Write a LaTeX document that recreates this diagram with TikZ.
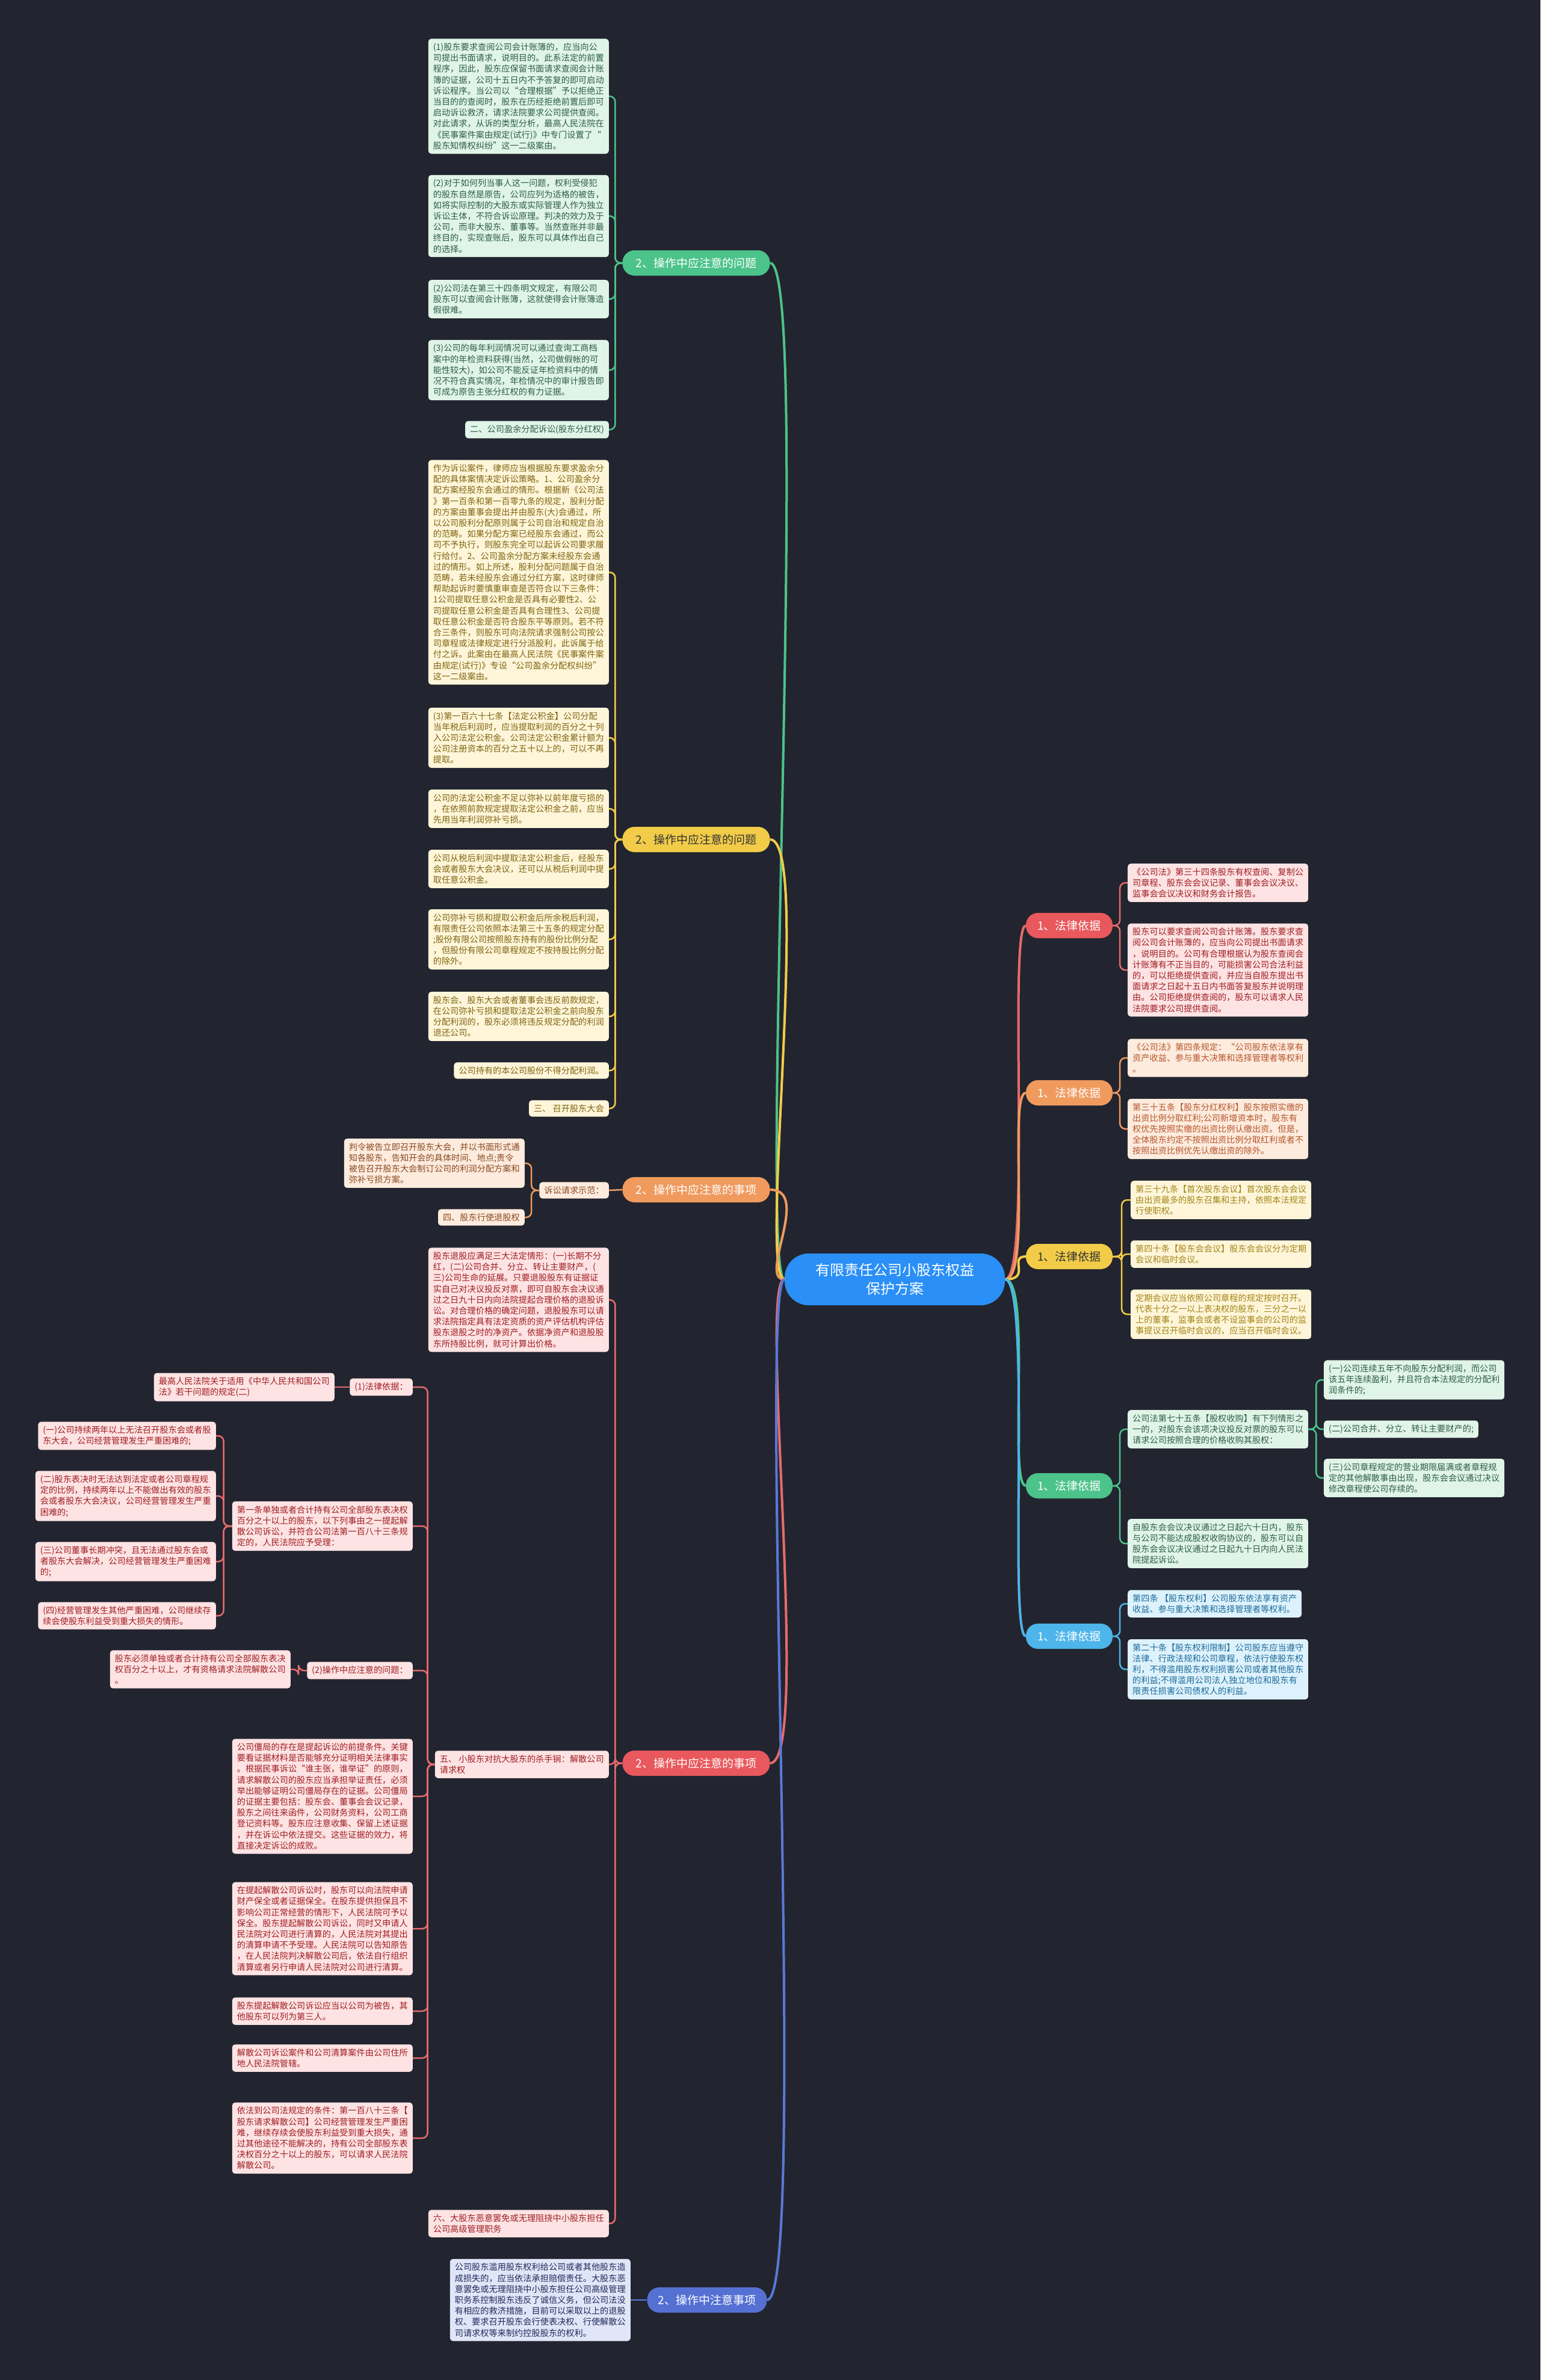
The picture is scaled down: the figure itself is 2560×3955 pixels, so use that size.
\documentclass[tikz,border=0pt]{standalone}
\usepackage{fontspec}
\setmainfont{Noto Sans CJK SC}
\usetikzlibrary{calc}
\definecolor{bg}{HTML}{22252F}
\definecolor{cF}{HTML}{2A8FF7}
\definecolor{gL}{HTML}{4CC38A}\definecolor{gF}{HTML}{E0F4E8}\definecolor{gT}{HTML}{2E5E46}
\definecolor{yL}{HTML}{F2CC48}\definecolor{yF}{HTML}{FFF6DA}\definecolor{yT}{HTML}{7F6410}\definecolor{yT2}{HTML}{A38416}
\definecolor{oL}{HTML}{F09A5E}\definecolor{oF}{HTML}{FDEBDE}\definecolor{oT}{HTML}{8A4A20}\definecolor{oT2}{HTML}{B5562A}
\definecolor{rL}{HTML}{E66B6D}\definecolor{rP}{HTML}{E8585C}\definecolor{rF}{HTML}{FDE3E3}\definecolor{rT}{HTML}{A01E24}
\definecolor{bL}{HTML}{4DB5EA}\definecolor{bF}{HTML}{DDF2FC}\definecolor{bT}{HTML}{1D6A9A}
\definecolor{eL}{HTML}{5A78D8}\definecolor{eP}{HTML}{5470D3}\definecolor{eF}{HTML}{E0E5F7}\definecolor{eT}{HTML}{202A5A}
\begin{document}
\begin{tikzpicture}[x=1pt,y=-1pt,
  box/.style={rounded corners=5pt, inner xsep=8pt, inner ysep=7pt, align=left, font=\fontsize{14.2}{18.2}\selectfont},
  gb/.style={box, fill=gF, text=gT},
  yb/.style={box, fill=yF, text=yT},
  yb2/.style={box, fill=yF, text=yT2},
  ob/.style={box, fill=oF, text=oT},
  ob2/.style={box, fill=oF, text=oT2},
  rb/.style={box, fill=rF, text=rT},
  bb/.style={box, fill=bF, text=bT},
  eb/.style={box, fill=eF, text=eT},
  pill/.style={rounded corners=20pt, minimum height=42pt, inner xsep=18pt, inner ysep=4pt, font=\fontsize{19}{22}\selectfont, text=white},
  ln/.style={line width=2.5pt, rounded corners=9pt},
  mainln/.style={line width=4pt},
]
\fill[bg] (0,0) rectangle (2560,3955);

% center
\node[fill=cF, text=white, rounded corners=40pt, minimum width=366pt, minimum height=86pt, align=center, font=\fontsize{24}{31}\selectfont] (C) at (1487,2126) {有限责任公司小股东权益\\保护方案};

% ---------- left level 1 ----------
\node[pill, fill=gL, minimum width=245pt] (A) at (1157,437) {2、操作中应注意的问题};
\node[pill, fill=yL, text=black!80, minimum width=245pt] (B) at (1157,1395) {2、操作中应注意的问题};
\node[pill, fill=oL, minimum width=245pt] (Cc) at (1157,1977) {2、操作中应注意的事项};
\node[pill, fill=rP, minimum width=245pt] (D) at (1157,2930) {2、操作中应注意的事项};
\node[pill, fill=eP, minimum width=199pt] (E) at (1175,3822) {2、操作中注意事项};

% ---------- right level 1 ----------
\node[pill, fill=rP, minimum width=144pt] (R) at (1777,1538) {1、法律依据};
\node[pill, fill=oL, minimum width=144pt] (O) at (1777,1816) {1、法律依据};
\node[pill, fill=yL, text=black!80, minimum width=144pt] (Y) at (1777,2088) {1、法律依据};
\node[pill, fill=gL, minimum width=144pt] (G) at (1777,2469) {1、法律依据};
\node[pill, fill=bL, minimum width=144pt] (BL) at (1777,2719) {1、法律依据};

% ---------- A (green) ----------
\node[gb, anchor=east] (A1) at (1012,160) {(1)股东要求查阅公司会计账簿的，应当向公\\司提出书面请求，说明目的。此系法定的前置\\程序，因此，股东应保留书面请求查阅会计账\\簿的证据，公司十五日内不予答复的即可启动\\诉讼程序。当公司以“合理根据”予以拒绝正\\当目的的查阅时，股东在历经拒绝前置后即可\\启动诉讼救济，请求法院要求公司提供查阅。\\对此请求，从诉的类型分析，最高人民法院在\\《民事案件案由规定(试行)》中专门设置了“\\股东知情权纠纷”这一二级案由。};
\node[gb, anchor=east] (A2) at (1012,359) {(2)对于如何列当事人这一问题，权利受侵犯\\的股东自然是原告，公司应列为适格的被告，\\如将实际控制的大股东或实际管理人作为独立\\诉讼主体，不符合诉讼原理。判决的效力及于\\公司，而非大股东、董事等。当然查账并非最\\终目的，实现查账后，股东可以具体作出自己\\的选择。};
\node[gb, anchor=east] (A3) at (1012,497) {(2)公司法在第三十四条明文规定，有限公司\\股东可以查阅会计账簿，这就使得会计账簿造\\假很难。};
\node[gb, anchor=east] (A4) at (1012,615) {(3)公司的每年利润情况可以通过查询工商档\\案中的年检资料获得(当然，公司做假帐的可\\能性较大)，如公司不能反证年检资料中的情\\况不符合真实情况，年检情况中的审计报告即\\可成为原告主张分红权的有力证据。};
\node[gb, anchor=east] (A5) at (1012,714) {二、公司盈余分配诉讼(股东分红权)};

% ---------- B (yellow) ----------
\node[yb, anchor=east] (B1) at (1012,951) {作为诉讼案件，律师应当根据股东要求盈余分\\配的具体案情决定诉讼策略。1、公司盈余分\\配方案经股东会通过的情形。根据新《公司法\\》第一百条和第一百零九条的规定，股利分配\\的方案由董事会提出并由股东(大)会通过，所\\以公司股利分配原则属于公司自治和规定自治\\的范畴。如果分配方案已经股东会通过，而公\\司不予执行，则股东完全可以起诉公司要求履\\行给付。2、公司盈余分配方案未经股东会通\\过的情形。如上所述，股利分配问题属于自治\\范畴，若未经股东会通过分红方案，这时律师\\帮助起诉时要慎重审查是否符合以下三条件：\\1公司提取任意公积金是否具有必要性2、公\\司提取任意公积金是否具有合理性3、公司提\\取任意公积金是否符合股东平等原则。若不符\\合三条件，则股东可向法院请求强制公司按公\\司章程或法律规定进行分派股利，此诉属于给\\付之诉。此案由在最高人民法院《民事案件案\\由规定(试行)》专设“公司盈余分配权纠纷”\\这一二级案由。};
\node[yb, anchor=east] (B2) at (1012,1226) {(3)第一百六十七条【法定公积金】公司分配\\当年税后利润时，应当提取利润的百分之十列\\入公司法定公积金。公司法定公积金累计额为\\公司注册资本的百分之五十以上的，可以不再\\提取。};
\node[yb, anchor=east] (B3) at (1012,1344) {公司的法定公积金不足以弥补以前年度亏损的\\，在依照前款规定提取法定公积金之前，应当\\先用当年利润弥补亏损。};
\node[yb, anchor=east] (B4) at (1012,1444) {公司从税后利润中提取法定公积金后，经股东\\会或者股东大会决议，还可以从税后利润中提\\取任意公积金。};
\node[yb, anchor=east] (B5) at (1012,1561) {公司弥补亏损和提取公积金后所余税后利润，\\有限责任公司依照本法第三十五条的规定分配\\;股份有限公司按照股东持有的股份比例分配\\，但股份有限公司章程规定不按持股比例分配\\的除外。};
\node[yb, anchor=east] (B6) at (1012,1689) {股东会、股东大会或者董事会违反前款规定，\\在公司弥补亏损和提取法定公积金之前向股东\\分配利润的，股东必须将违反规定分配的利润\\退还公司。};
\node[yb, anchor=east] (B7) at (1012,1779) {公司持有的本公司股份不得分配利润。};
\node[yb, anchor=east] (B8) at (1012,1842) {三、 召开股东大会};

% ---------- C (orange) ----------
\node[ob, anchor=east] (C0) at (1012,1978) {诉讼请求示范：};
\node[ob, anchor=east] (C1) at (872,1933) {判令被告立即召开股东大会，并以书面形式通\\知各股东，告知开会的具体时间、地点;责令\\被告召开股东大会制订公司的利润分配方案和\\弥补亏损方案。};
\node[ob, anchor=east] (C2) at (872,2023) {四、股东行使退股权};

% ---------- D (red) ----------
\node[rb, anchor=east] (D1) at (1012,2160) {股东退股应满足三大法定情形：(一)长期不分\\红，(二)公司合并、分立、转让主要财产，(\\三)公司生命的延展。只要退股股东有证据证\\实自己对决议投反对票，即可自股东会决议通\\过之日九十日内向法院提起合理价格的退股诉\\讼。对合理价格的确定问题，退股股东可以请\\求法院指定具有法定资质的资产评估机构评估\\股东退股之时的净资产。依据净资产和退股股\\东所持股比例，就可计算出价格。};
\node[rb, anchor=east] (D2) at (1012,2932) {五、 小股东对抗大股东的杀手锏：解散公司\\请求权};
\node[rb, anchor=east] (D3) at (1012,3695) {六、大股东恶意罢免或无理阻挠中小股东担任\\公司高级管理职务};

% children of D2
\node[rb, anchor=east] (F1) at (686,2305) {(1)法律依据：};
\node[rb, anchor=east] (F1a) at (556,2305) {最高人民法院关于适用《中华人民共和国公司\\法》若干问题的规定(二)};
\node[rb, anchor=east] (F2) at (686,2536) {第一条单独或者合计持有公司全部股东表决权\\百分之十以上的股东，以下列事由之一提起解\\散公司诉讼，并符合公司法第一百八十三条规\\定的，人民法院应予受理：};
\node[rb, anchor=east] (F2a) at (359,2386) {(一)公司持续两年以上无法召开股东会或者股\\东大会，公司经营管理发生严重困难的;};
\node[rb, anchor=east] (F2b) at (359,2486) {(二)股东表决时无法达到法定或者公司章程规\\定的比例，持续两年以上不能做出有效的股东\\会或者股东大会决议，公司经营管理发生严重\\困难的;};
\node[rb, anchor=east] (F2c) at (359,2595) {(三)公司董事长期冲突，且无法通过股东会或\\者股东大会解决，公司经营管理发生严重困难\\的;};
\node[rb, anchor=east] (F2d) at (359,2685) {(四)经营管理发生其他严重困难，公司继续存\\续会使股东利益受到重大损失的情形。};
\node[rb, anchor=east] (F3) at (686,2776) {(2)操作中应注意的问题：};
\node[rb, anchor=east] (F3a) at (483,2774) {股东必须单独或者合计持有公司全部股东表决\\权百分之十以上，才有资格请求法院解散公司\\。};
\node[rb, anchor=east] (F4) at (686,2985) {公司僵局的存在是提起诉讼的前提条件。关键\\要看证据材料是否能够充分证明相关法律事实\\。根据民事诉讼“谁主张，谁举证”的原则，\\请求解散公司的股东应当承担举证责任，必须\\举出能够证明公司僵局存在的证据。公司僵局\\的证据主要包括：股东会、董事会会议记录，\\股东之间往来函件，公司财务资料，公司工商\\登记资料等。股东应注意收集、保留上述证据\\，并在诉讼中依法提交。这些证据的效力，将\\直接决定诉讼的成败。};
\node[rb, anchor=east] (F5) at (686,3205) {在提起解散公司诉讼时，股东可以向法院申请\\财产保全或者证据保全。在股东提供担保且不\\影响公司正常经营的情形下，人民法院可予以\\保全。股东提起解散公司诉讼，同时又申请人\\民法院对公司进行清算的，人民法院对其提出\\的清算申请不予受理。人民法院可以告知原告\\，在人民法院判决解散公司后，依法自行组织\\清算或者另行申请人民法院对公司进行清算。};
\node[rb, anchor=east] (F6) at (686,3342) {股东提起解散公司诉讼应当以公司为被告，其\\他股东可以列为第三人。};
\node[rb, anchor=east] (F7) at (686,3420) {解散公司诉讼案件和公司清算案件由公司住所\\地人民法院管辖。};
\node[rb, anchor=east] (F8) at (686,3553) {依法到公司法规定的条件：第一百八十三条【\\股东请求解散公司】公司经营管理发生严重困\\难，继续存续会使股东利益受到重大损失，通\\过其他途径不能解决的，持有公司全部股东表\\决权百分之十以上的股东，可以请求人民法院\\解散公司。};

% ---------- E (blue) ----------
\node[eb, anchor=east] (E1) at (1048,3822) {公司股东滥用股东权利给公司或者其他股东造\\成损失的，应当依法承担赔偿责任。大股东恶\\意罢免或无理阻挠中小股东担任公司高级管理\\职务系控制股东违反了诚信义务，但公司法没\\有相应的救济措施，目前可以采取以上的退股\\权、要求召开股东会行使表决权、行使解散公\\司请求权等来制约控股股东的权利。};

% ---------- right children ----------
\node[rb, anchor=west] (R1) at (1874,1467) {《公司法》第三十四条股东有权查阅、复制公\\司章程、股东会会议记录、董事会会议决议、\\监事会会议决议和财务会计报告。};
\node[rb, anchor=west] (R2) at (1874,1612) {股东可以要求查阅公司会计账簿。股东要求查\\阅公司会计账簿的，应当向公司提出书面请求\\，说明目的。公司有合理根据认为股东查阅会\\计账簿有不正当目的，可能损害公司合法利益\\的，可以拒绝提供查阅，并应当自股东提出书\\面请求之日起十五日内书面答复股东并说明理\\由。公司拒绝提供查阅的，股东可以请求人民\\法院要求公司提供查阅。};
\node[ob2, anchor=west] (O1) at (1874,1758) {《公司法》第四条规定：“公司股东依法享有\\资产收益、参与重大决策和选择管理者等权利\\。};
\node[ob2, anchor=west] (O2) at (1874,1876) {第三十五条【股东分红权利】股东按照实缴的\\出资比例分取红利;公司新增资本时，股东有\\权优先按照实缴的出资比例认缴出资。但是，\\全体股东约定不按照出资比例分取红利或者不\\按照出资比例优先认缴出资的除外。};
\node[yb2, anchor=west] (Y1) at (1879,1994) {第三十九条【首次股东会议】首次股东会会议\\由出资最多的股东召集和主持，依照本法规定\\行使职权。};
\node[yb2, anchor=west] (Y2) at (1879,2084) {第四十条【股东会会议】股东会会议分为定期\\会议和临时会议。};
\node[yb2, anchor=west] (Y3) at (1879,2184) {定期会议应当依照公司章程的规定按时召开。\\代表十分之一以上表决权的股东，三分之一以\\上的董事，监事会或者不设监事会的公司的监\\事提议召开临时会议的，应当召开临时会议。};
\node[gb, anchor=west] (G1) at (1874,2375) {公司法第七十五条【股权收购】有下列情形之\\一的，对股东会该项决议投反对票的股东可以\\请求公司按照合理的价格收购其股权：};
\node[gb, anchor=west] (G2) at (1874,2565) {自股东会会议决议通过之日起六十日内，股东\\与公司不能达成股权收购协议的，股东可以自\\股东会会议决议通过之日起九十日内向人民法\\院提起诉讼。};
\node[gb, anchor=west] (G1a) at (2200,2293) {(一)公司连续五年不向股东分配利润，而公司\\该五年连续盈利，并且符合本法规定的分配利\\润条件的;};
\node[gb, anchor=west] (G1b) at (2200,2375) {(二)公司合并、分立、转让主要财产的;};
\node[gb, anchor=west] (G1c) at (2200,2456) {(三)公司章程规定的营业期限届满或者章程规\\定的其他解散事由出现，股东会会议通过决议\\修改章程使公司存续的。};
\node[bb, anchor=west] (BL1) at (1874,2665) {第四条 【股东权利】公司股东依法享有资产\\收益、参与重大决策和选择管理者等权利。};
\node[bb, anchor=west] (BL2) at (1874,2774) {第二十条【股东权利限制】公司股东应当遵守\\法律、行政法规和公司章程，依法行使股东权\\利，不得滥用股东权利损害公司或者其他股东\\的利益;不得滥用公司法人独立地位和股东有\\限责任损害公司债权人的利益。};

% ---------- connectors: center to level 1 ----------
\foreach \n/\c in {A/gL,B/yL,Cc/oL,D/rL,E/eL}
  \draw[mainln, \c] (C.west) .. controls +(-45,0) and +(70,0) .. (\n.east);
\foreach \n/\c in {R/rL,O/oL,Y/yL,G/gL,BL/bL}
  \draw[mainln, \c] (C.east) .. controls +(45,0) and +(-30,0) .. (\n.west);

% ---------- connectors: elbows ----------
\foreach \c in {A1,A2,A3,A4,A5}
  \draw[ln, gL] (A.west) -- ++(-12,0) |- (\c.east);
\foreach \c in {B1,B2,B3,B4,B5,B6,B7,B8}
  \draw[ln, yL] (B.west) -- ++(-12,0) |- (\c.east);
\draw[ln, oL] (Cc.west) -- (C0.east);
\foreach \c in {C1,C2}
  \draw[ln, oL] (C0.west) -- ++(-13,0) |- (\c.east);
\foreach \c in {D1,D2,D3}
  \draw[ln, rL] (D.west) -- ++(-12,0) |- (\c.east);
\foreach \c in {F1,F2,F3,F4,F5,F6,F7,F8}
  \draw[ln, rL] (D2.west) -- ++(-12,0) |- (\c.east);
\draw[ln, rL] (F1.west) -- (F1a.east);
\foreach \c in {F2a,F2b,F2c,F2d}
  \draw[ln, rL] (F2.west) -- ++(-14,0) |- (\c.east);
\draw[ln, rL] (F3.west) -- ++(-14,0) |- (F3a.east);
\draw[ln, eL] (E.west) -- (E1.east);

\foreach \c in {R1,R2}
  \draw[ln, rL] (R.east) -- ++(12,0) |- (\c.west);
\foreach \c in {O1,O2}
  \draw[ln, oL] (O.east) -- ++(12,0) |- (\c.west);
\foreach \c in {Y1,Y2,Y3}
  \draw[ln, yL] (Y.east) -- ++(15,0) |- (\c.west);
\foreach \c in {G1,G2}
  \draw[ln, gL] (G.east) -- ++(12,0) |- (\c.west);
\foreach \c in {G1a,G1b,G1c}
  \draw[ln, gL] (G1.east) -- ++(13,0) |- (\c.west);
\foreach \c in {BL1,BL2}
  \draw[ln, bL] (BL.east) -- ++(12,0) |- (\c.west);
\end{tikzpicture}
\end{document}
